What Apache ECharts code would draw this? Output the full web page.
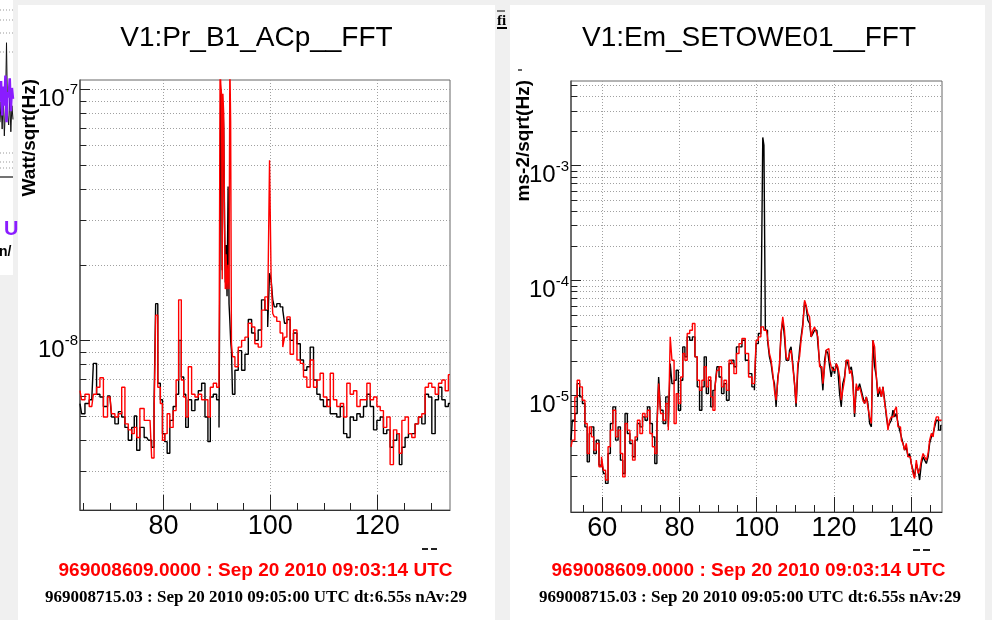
<!DOCTYPE html>
<html>
<head>
<meta charset="utf-8">
<title>V1 FFT spectra</title>
<script src="https://cdn.jsdelivr.net/npm/echarts@6.0.0/dist/echarts.min.js"></script>
<style>
  html, body { margin: 0; padding: 0; background: #f0f0f0; }
  #chart { width: 992px; height: 620px; }
</style>
</head>
<body>
<div id="chart"></div>
<script>
// ---------- V1:Pr_B1_ACp__FFT  (Watt/sqrt(Hz)) ----------
const prFreq = [
  64.4, 65.0, 65.65, 66.6, 67.2, 67.8, 68.45, 69.1, 70.0, 70.6,
  71.25, 71.9, 72.5, 73.1, 73.75, 74.4, 74.7, 75.3, 75.9, 76.9,
  77.5, 78.1, 78.4, 78.7, 79.2, 79.65, 80.0, 80.5, 80.9, 81.5,
  82.15, 82.6, 83.1, 83.6, 84.0, 84.35, 84.95, 85.6, 86.2, 86.85,
  87.45, 88.1, 88.55, 89.0, 89.65, 90.25, 90.55, 90.65, 90.8, 90.95,
  91.05, 91.2, 91.35, 91.5, 91.65, 91.8, 92.0, 92.2, 92.35, 92.5,
  92.65, 92.8, 93.05, 93.7, 94.3, 94.95, 95.55, 96.2, 96.8, 97.4,
  98.05, 98.65, 99.3, 99.7, 100.0, 100.3, 100.6, 100.9, 101.5, 102.15,
  102.5, 102.8, 103.4, 104.0, 104.65, 105.3, 105.9, 106.5, 107.15, 107.75,
  108.4, 109.0, 109.6, 110.25, 110.9, 111.5, 112.1, 112.75, 113.4, 114.0,
  114.6, 115.25, 115.85, 116.5, 117.1, 117.75, 118.35, 119.0, 119.6, 120.25,
  120.85, 121.45, 122.1, 122.7, 123.35, 123.95, 124.3, 124.9, 125.5, 126.15,
  126.75, 127.4, 128.0, 128.65, 129.25, 129.9, 130.5, 131.15, 131.75, 132.4,
  133.0, 133.6
];
// black trace: 969008715.03, Sep 20 2010 09:05:00 UTC
const prCurrent = [
  5.6e-9, 5.1e-9, 5.6e-9, 5.8e-9, 8.1e-9, 6.1e-9, 5.95e-9, 5.45e-9, 6.0e-9, 4.95e-9,
  4.65e-9, 5.2e-9, 4.95e-9, 4.5e-9, 4.0e-9, 4.5e-9, 5.0e-9, 3.65e-9, 4.5e-9, 4.1e-9,
  4.0e-9, 3.75e-9, 5.6e-9, 1.4e-8, 6.75e-9, 5.8e-9, 4.25e-9, 3.95e-9, 3.55e-9, 4.8e-9,
  5.45e-9, 6.1e-9, 1.0e-8, 7.15e-9, 6.1e-9, 4.5e-9, 5.8e-9, 5.25e-9, 5.8e-9, 6.3e-9,
  6.75e-9, 4.95e-9, 3.95e-9, 5.95e-9, 6.1e-9, 5.8e-9, 4.5e-9, 2.8e-8, 1.0e-7, 8.5e-8,
  1.9e-8, 8.8e-8, 7.0e-8, 3.0e-8, 1.7e-8, 2.4e-8, 1.5e-8, 4.1e-8, 1.4e-8, 1.2e-8,
  1.0e-8, 9.1e-9, 6.1e-9, 7.6e-9, 9.1e-9, 7.6e-9, 8.8e-9, 1.21e-8, 1.07e-8, 1.0e-8,
  1.1e-8, 1.45e-8, 1.32e-8, 1.13e-8, 1.85e-8, 1.74e-8, 1.45e-8, 1.36e-8, 1.4e-8, 1.36e-8,
  1.32e-8, 1.17e-8, 1.21e-8, 1.0e-8, 1.07e-8, 9.7e-9, 8.35e-9, 7.6e-9, 7.85e-9, 9.4e-9,
  6.95e-9, 6.1e-9, 5.8e-9, 5.45e-9, 5.8e-9, 5.1e-9, 5.1e-9, 4.95e-9, 5.45e-9, 4.25e-9,
  4.1e-9, 4.95e-9, 4.8e-9, 5.1e-9, 4.95e-9, 5.45e-9, 6.1e-9, 5.45e-9, 4.4e-9, 4.8e-9,
  4.95e-9, 4.25e-9, 4.4e-9, 3.75e-9, 4.0e-9, 4.25e-9, 3.2e-9, 3.75e-9, 4.1e-9, 4.25e-9,
  4.25e-9, 4.65e-9, 4.95e-9, 4.65e-9, 6.1e-9, 5.95e-9, 4.25e-9, 5.8e-9, 6.5e-9, 5.8e-9,
  5.45e-9, 5.6e-9
];
// red trace: 969008609.0000, Sep 20 2010 09:03:14 UTC
const prReference = [
  6.3e-9, 5.8e-9, 6.1e-9, 5.45e-9, 6.1e-9, 6.5e-9, 7.1e-9, 4.95e-9, 5.95e-9, 5.1e-9,
  4.95e-9, 5.1e-9, 6.5e-9, 4.65e-9, 4.4e-9, 4.25e-9, 4.5e-9, 4.1e-9, 5.35e-9, 4.8e-9,
  4.8e-9, 3.4e-9, 4.95e-9, 1.26e-8, 6.5e-9, 5.6e-9, 4.0e-9, 4.25e-9, 5.1e-9, 4.5e-9,
  5.25e-9, 6.95e-9, 1.45e-8, 6.95e-9, 5.95e-9, 4.95e-9, 7.85e-9, 6.1e-9, 5.95e-9, 6.1e-9,
  5.8e-9, 5.8e-9, 4.95e-9, 6.5e-9, 6.75e-9, 6.5e-9, 7.15e-9, 1.25e-7, 1.05e-7, 9.5e-8,
  1.75e-8, 9.6e-8, 8.0e-8, 3.3e-8, 1.6e-8, 2.2e-8, 1.6e-8, 2.0e-8, 1.6e-8, 1.3e-7,
  7.4e-8, 9.7e-9, 8.6e-9, 7.85e-9, 9.4e-9, 1.0e-8, 1.03e-8, 1.17e-8, 1.13e-8, 9.7e-9,
  9.4e-9, 1.32e-8, 1.49e-8, 1.32e-8, 5.22e-8, 1.74e-8, 1.28e-8, 1.24e-8, 1.19e-8, 1.07e-8,
  9.4e-9, 1.03e-8, 1.24e-8, 8.8e-9, 1.1e-8, 8.35e-9, 8.1e-9, 7.15e-9, 6.5e-9, 8.35e-9,
  6.5e-9, 6.95e-9, 7.4e-9, 5.95e-9, 5.45e-9, 7.4e-9, 5.8e-9, 5.45e-9, 5.6e-9, 4.95e-9,
  6.75e-9, 6.1e-9, 6.3e-9, 5.45e-9, 5.8e-9, 5.8e-9, 6.75e-9, 5.8e-9, 5.95e-9, 5.45e-9,
  5.25e-9, 4.5e-9, 4.95e-9, 3.2e-9, 4.4e-9, 4.25e-9, 3.55e-9, 4.8e-9, 4.95e-9, 4.25e-9,
  4.1e-9, 4.65e-9, 4.95e-9, 5.1e-9, 6.5e-9, 6.75e-9, 6.5e-9, 6.1e-9, 6.75e-9, 6.95e-9,
  6.3e-9, 7.3e-9
];
const prXMinorTicks = [65, 70, 75, 85, 90, 95, 105, 110, 115, 125, 130];
const prXMajorTicks = [80, 100, 120];
const prYGridValues = [3e-9, 4e-9, 5e-9, 6e-9, 7e-9, 8e-9, 9e-9, 1e-8, 2e-8, 3e-8, 4e-8, 5e-8, 6e-8, 7e-8, 8e-8, 9e-8, 1e-7];
const prYDecades = [1e-8, 1e-7];

// ---------- V1:Em_SETOWE01__FFT  (ms-2/sqrt(Hz)) ----------
const emFreq = [
  51.9, 52.6, 53.2, 53.8, 54.5, 55.2, 55.8, 56.4, 56.9, 57.5,
  58.1, 58.8, 59.5, 60.1, 60.5, 61.2, 61.8, 62.4, 63.1, 63.8,
  64.4, 65.0, 65.6, 66.2, 66.8, 67.5, 68.2, 68.8, 69.4, 70.1,
  70.75, 71.4, 72.0, 72.65, 73.3, 73.9, 74.4, 74.8, 75.4, 76.1,
  76.8, 77.4, 77.8, 78.3, 78.9, 79.4, 80.0, 80.6, 81.1, 81.7,
  82.3, 83.0, 83.7, 84.3, 84.9, 85.5, 86.1, 86.7, 87.2, 87.8,
  88.4, 88.9, 89.5, 89.9, 90.6, 91.2, 91.85, 92.5, 93.2, 93.8,
  94.4, 95.1, 95.75, 96.6, 97.5, 98.3, 99.2, 99.6, 100.1, 100.76,
  101.4, 101.75, 102.0, 102.5, 103.1, 103.5, 103.95, 104.4, 104.8, 105.25,
  105.7, 106.1, 106.5, 107.0, 107.4, 107.85, 108.3, 108.7, 109.1, 109.6,
  110.0, 110.4, 110.9, 111.3, 111.7, 112.2, 112.6, 113.0, 113.5, 113.9,
  114.3, 114.8, 115.2, 115.6, 116.1, 116.5, 116.9, 117.4, 117.8, 118.2,
  118.7, 119.1, 119.5, 119.95, 120.4, 120.8, 121.25, 121.7, 122.1, 122.5,
  123.0, 123.4, 123.8, 124.3, 124.7, 125.1, 125.6, 126.0, 126.4, 126.9,
  127.3, 127.7, 128.2, 128.6, 129.0, 129.5, 129.9, 130.3, 130.8, 131.2,
  131.6, 132.1, 132.5, 132.9, 133.4, 133.8, 134.2, 134.65, 135.1, 135.5,
  135.95, 136.4, 136.8, 137.25, 137.7, 138.1, 138.5, 139.0, 139.4, 139.8,
  140.3, 140.7, 141.1, 141.6, 142.0, 142.4, 142.9, 143.3, 143.7, 144.2,
  144.6, 145.0, 145.5, 145.9, 146.3, 146.8, 147.4, 147.9
];
const emCurrent = [
  4.09e-6, 6.1e-6, 6.97e-6, 1.27e-5, 9.74e-6, 8.52e-6, 5.34e-6, 2.65e-6, 4.68e-6, 5.34e-6,
  3.13e-6, 4.09e-6, 2.48e-6, 2.74e-6, 2.1e-6, 1.72e-6, 3.13e-6, 5.71e-6, 7.97e-6, 4.09e-6,
  5.34e-6, 2.74e-6, 2.1e-6, 6.97e-6, 4.68e-6, 3.83e-6, 2.93e-6, 4.09e-6, 5.71e-6, 5.34e-6,
  6.52e-6, 6.1e-6, 7.97e-6, 5.71e-6, 4.37e-6, 2.56e-6, 5.34e-6, 1.45e-5, 7.45e-6, 5.71e-6,
  9.74e-6, 5.34e-6, 1.9e-5, 1.27e-5, 1.36e-5, 1.66e-5, 7.45e-6, 1.36e-5, 2.65e-5, 2.17e-5,
  3.24e-5, 3.03e-5, 3.24e-5, 2.17e-5, 1.19e-5, 7.45e-6, 1.19e-5, 2.17e-5, 1.04e-5, 1.36e-5,
  7.97e-6, 1.11e-5, 1.19e-5, 1.78e-5, 1.45e-5, 1.04e-5, 1.27e-5, 9.1e-6, 1.9e-5, 2.03e-5,
  1.78e-5, 2.65e-5, 2.65e-5, 3.03e-5, 2.03e-5, 1.55e-5, 1.19e-5, 1.11e-5, 2.83e-5, 3.46e-5,
  3.46e-5, 1.76e-3, 1.5e-3, 3.7e-5, 3.03e-5, 2.17e-5, 1.9e-5, 1.45e-5, 1.27e-5, 7.97e-6,
  1.45e-5, 1.78e-5, 3.46e-5, 4.52e-5, 3.24e-5, 2.03e-5, 2.03e-5, 2.48e-5, 2.65e-5, 1.9e-5,
  1.27e-5, 7.97e-6, 1.66e-5, 2.48e-5, 3.24e-5, 4.23e-5, 6.52e-5, 5.9e-5, 4.52e-5, 4.23e-5,
  3.24e-5, 3.46e-5, 3.7e-5, 3.7e-5, 2.83e-5, 1.9e-5, 1.72e-5, 1.11e-5, 2.03e-5, 2.48e-5,
  2.32e-5, 1.78e-5, 1.45e-5, 1.78e-5, 1.55e-5, 1.9e-5, 1.66e-5, 1.04e-5, 7.97e-6, 1.27e-5,
  1.45e-5, 2.03e-5, 1.9e-5, 1.66e-5, 1.78e-5, 1.45e-5, 6.52e-6, 1.19e-5, 1.11e-5, 1.27e-5,
  1.11e-5, 9.74e-6, 8.52e-6, 9.74e-6, 8.52e-6, 5.71e-6, 5.34e-6, 3.03e-5, 1.78e-5, 1.45e-5,
  9.74e-6, 1.11e-5, 9.74e-6, 1.19e-5, 9.1e-6, 6.52e-6, 5.34e-6, 5.71e-6, 6.1e-6, 7.45e-6,
  6.52e-6, 6.97e-6, 5.71e-6, 5.0e-6, 4.37e-6, 3.83e-6, 3.35e-6, 3.58e-6, 2.93e-6, 3.13e-6,
  2.56e-6, 2.24e-6, 1.96e-6, 2.56e-6, 2.24e-6, 1.84e-6, 2.56e-6, 2.93e-6, 2.74e-6, 2.56e-6,
  2.93e-6, 3.83e-6, 4.37e-6, 4.68e-6, 5.34e-6, 6.1e-6, 5.0e-6, 5.5e-6
];
const emReference = [
  3.58e-6, 4.09e-6, 9.74e-6, 1.36e-5, 1.19e-5, 9.1e-6, 5.71e-6, 3.13e-6, 5.34e-6, 4.37e-6,
  3.35e-6, 3.83e-6, 2.4e-6, 2.93e-6, 2.24e-6, 1.84e-6, 3.58e-6, 5.0e-6, 7.45e-6, 4.37e-6,
  5.0e-6, 3.13e-6, 1.96e-6, 5.71e-6, 5.0e-6, 4.09e-6, 2.74e-6, 4.37e-6, 6.1e-6, 4.68e-6,
  6.97e-6, 6.52e-6, 7.45e-6, 4.68e-6, 3.58e-6, 3.13e-6, 5.0e-6, 1.27e-5, 6.97e-6, 6.1e-6,
  8.52e-6, 5.0e-6, 3.24e-5, 2.03e-5, 5.71e-6, 1.04e-5, 8.52e-6, 1.45e-5, 2.32e-5, 2.03e-5,
  3.46e-5, 3.7e-5, 4.23e-5, 2.17e-5, 1.36e-5, 1.11e-5, 1.36e-5, 1.78e-5, 1.19e-5, 1.45e-5,
  9.74e-6, 7.45e-6, 1.19e-5, 1.66e-5, 1.78e-5, 1.19e-5, 1.36e-5, 1.11e-5, 2.03e-5, 1.9e-5,
  1.55e-5, 2.32e-5, 2.83e-5, 3.13e-5, 2.32e-5, 1.45e-5, 1.27e-5, 1.27e-5, 3.03e-5, 3.24e-5,
  3.96e-5, 3.96e-5, 3.7e-5, 3.7e-5, 3.24e-5, 2.32e-5, 2.03e-5, 1.55e-5, 1.11e-5, 9.1e-6,
  1.36e-5, 1.9e-5, 3.46e-5, 4.83e-5, 3.7e-5, 2.17e-5, 2.03e-5, 2.32e-5, 2.48e-5, 1.78e-5,
  1.27e-5, 8.52e-6, 1.9e-5, 2.17e-5, 3.03e-5, 3.96e-5, 6.75e-5, 6.1e-5, 5.16e-5, 4.83e-5,
  3.24e-5, 3.7e-5, 3.96e-5, 3.58e-5, 3.24e-5, 1.78e-5, 1.78e-5, 1.27e-5, 1.78e-5, 2.48e-5,
  2.56e-5, 2.03e-5, 1.78e-5, 1.66e-5, 1.66e-5, 1.9e-5, 1.78e-5, 1.45e-5, 9.1e-6, 1.11e-5,
  1.36e-5, 2.03e-5, 2.03e-5, 1.55e-5, 1.66e-5, 1.27e-5, 6.97e-6, 1.27e-5, 1.11e-5, 1.19e-5,
  1.04e-5, 9.1e-6, 8.52e-6, 9.74e-6, 7.97e-6, 6.52e-6, 5.71e-6, 3.03e-5, 2.65e-5, 1.45e-5,
  1.04e-5, 1.19e-5, 9.74e-6, 1.19e-5, 8.52e-6, 6.97e-6, 5.0e-6, 6.1e-6, 6.52e-6, 6.52e-6,
  7.45e-6, 7.97e-6, 5.34e-6, 5.34e-6, 4.09e-6, 3.83e-6, 3.35e-6, 3.83e-6, 2.93e-6, 2.93e-6,
  2.56e-6, 2.1e-6, 1.9e-6, 2.74e-6, 2.1e-6, 2.24e-6, 2.74e-6, 3.13e-6, 2.93e-6, 2.74e-6,
  3.13e-6, 4.09e-6, 4.68e-6, 4.37e-6, 5.71e-6, 6.52e-6, 6.1e-6, 6.1e-6
];
const emXMinorTicks = [55, 65, 70, 75, 85, 90, 95, 105, 110, 115, 125, 130, 135, 145];
const emXMajorTicks = [60, 80, 100, 120, 140];
const emYGridValues = [
  2e-6, 3e-6, 4e-6, 5e-6, 6e-6, 7e-6, 8e-6, 9e-6,
  1e-5, 2e-5, 3e-5, 4e-5, 5e-5, 6e-5, 7e-5, 8e-5, 9e-5,
  1e-4, 2e-4, 3e-4, 4e-4, 5e-4, 6e-4, 7e-4, 8e-4, 9e-4,
  1e-3, 2e-3, 3e-3, 4e-3, 5e-3
];
const emYDecades = [1e-5, 1e-4, 1e-3];

// neighbouring window strip on the far left
const sideX = [0, 1, 2, 3, 4, 5, 6, 7, 8, 9, 10, 11, 12];
const sidePurple = [55, 70, 45, 66, 52, 74, 40, 62, 58, 72, 48, 65, 57];
const sideBlack = [40, 55, 35, 60, 30, 50, 98, 45, 38, 58, 33, 52, 42];

const refStamp = '969008609.0000 : Sep 20 2010 09:03:14 UTC';
const curStamp = '969008715.03 : Sep 20 2010 09:05:00 UTC dt:6.55s nAv:29';

const SANS = '"Liberation Sans", Arial, Helvetica, sans-serif';
const SERIF = '"Liberation Serif", "Times New Roman", serif';
const GRID_DOT = { color: '#a0a0a0', width: 1, type: [1, 2] };

function powerLabel(v) {
  const e = v > 0 ? Math.round(Math.log10(v)) : v;
  return '{b|10}{s|' + e + '}';
}
const powerRich = {
  b: { fontSize: 24, fontFamily: SANS, color: '#000', lineHeight: 33 },
  s: { fontSize: 15, fontFamily: SANS, color: '#000', lineHeight: 12, verticalAlign: 'top' }
};

const panels = [
  {
    rect: { left: 80, top: 80, width: 370, height: 430 },
    xMin: 64.4, xMax: 133.6, yMin: 2.11e-9, yMax: 1.089e-7,
    xMinor: prXMinorTicks, xMajor: prXMajorTicks, yGrid: prYGridValues, yDec: prYDecades,
    freq: prFreq, cur: prCurrent, ref: prReference
  },
  {
    rect: { left: 571, top: 81, width: 371, height: 431 },
    xMin: 51.9, xMax: 148.0, yMin: 9.7e-7, yMax: 5.45e-3,
    xMinor: emXMinorTicks, xMajor: emXMajorTicks, yGrid: emYGridValues, yDec: emYDecades,
    freq: emFreq, cur: emCurrent, ref: emReference
  }
];

const grid = [], xAxis = [], yAxis = [], series = [];
panels.forEach(function (p) {
  const g = grid.length;
  // frame + minor ticks + horizontal log grid
  grid.push(Object.assign({ show: true, borderColor: '#666', borderWidth: 1, backgroundColor: 'transparent' }, p.rect));
  // major ticks, labels, vertical grid
  grid.push(Object.assign({ show: false }, p.rect));

  xAxis.push({
    type: 'value', gridIndex: g, min: p.xMin, max: p.xMax, position: 'bottom',
    axisLine: { show: true, onZero: false, lineStyle: { color: '#333', width: 1 } },
    axisTick: { show: true, inside: true, length: 7, customValues: p.xMinor, lineStyle: { color: '#222' } },
    axisLabel: { show: false }, splitLine: { show: false }
  });
  xAxis.push({
    type: 'value', gridIndex: g + 1, min: p.xMin, max: p.xMax, position: 'bottom',
    axisLine: { show: false, onZero: false },
    axisTick: { show: true, inside: true, length: 15, customValues: p.xMajor, lineStyle: { color: '#222' } },
    axisLabel: { show: true, customValues: p.xMajor, margin: 3, fontSize: 27, fontFamily: SANS, color: '#000' },
    splitLine: { show: true, lineStyle: GRID_DOT }
  });
  yAxis.push({
    type: 'log', logBase: 10, gridIndex: g, min: p.yMin, max: p.yMax, position: 'left',
    axisLine: { show: true, onZero: false, lineStyle: { color: '#555', width: 1.5 } },
    axisTick: { show: true, inside: true, length: 6, customValues: p.yGrid, lineStyle: { color: '#222' } },
    axisLabel: { show: false },
    splitLine: { show: true, lineStyle: GRID_DOT }
  });
  yAxis.push({
    type: 'log', logBase: 10, gridIndex: g + 1, min: p.yMin, max: p.yMax, position: 'left',
    axisLine: { show: false, onZero: false },
    axisTick: { show: true, inside: true, length: 10, customValues: p.yDec, lineStyle: { color: '#222' } },
    axisLabel: { show: true, customValues: p.yDec, margin: 2, padding: [20, 0, 0, 0], formatter: powerLabel, rich: powerRich },
    splitLine: { show: false }
  });

  series.push({
    name: 'Sep 20 2010 09:05:00 UTC', type: 'line', xAxisIndex: g, yAxisIndex: g,
    data: p.freq.map(function (f, k) { return [f, p.cur[k]]; }),
    step: 'middle', showSymbol: false, symbol: 'none', silent: true, z: 3,
    lineStyle: { color: '#000000', width: 1.4 }, itemStyle: { color: '#000000' }
  });
  series.push({
    name: 'Sep 20 2010 09:03:14 UTC', type: 'line', xAxisIndex: g, yAxisIndex: g,
    data: p.freq.map(function (f, k) { return [f, p.ref[k]]; }),
    step: 'middle', showSymbol: false, symbol: 'none', silent: true, z: 4,
    lineStyle: { color: '#ff0000', width: 1.4 }, itemStyle: { color: '#ff0000' }
  });
});

// strip of the neighbouring window
const sg = grid.length;
grid.push({ left: 0, top: 40, width: 13, height: 137, show: false });
xAxis.push({ type: 'value', gridIndex: sg, min: 0, max: 12, show: false });
yAxis.push({ type: 'value', gridIndex: sg, min: 0, max: 100, show: false });
series.push({
  type: 'line', xAxisIndex: sg, yAxisIndex: sg, silent: true, showSymbol: false, symbol: 'none', z: 3,
  data: sideX.map(function (x, k) { return [x, sideBlack[k]]; }),
  lineStyle: { color: '#111', width: 1 }
});
series.push({
  type: 'line', xAxisIndex: sg, yAxisIndex: sg, silent: true, showSymbol: false, symbol: 'none', z: 4,
  data: sideX.map(function (x, k) { return [x, sidePurple[k]]; }),
  lineStyle: { color: '#8a1cff', width: 2.5 }
});

function txt(x, y, text, font, fill, align, extra) {
  return Object.assign({
    type: 'text', x: x, y: y, silent: true,
    style: { text: text, font: font, fill: fill, align: align || 'center', verticalAlign: 'middle' }
  }, extra || {});
}
function hline(x1, x2, y, color, width, dash) {
  return { type: 'line', silent: true, z: -5, shape: { x1: x1, y1: y, x2: x2, y2: y },
    style: { stroke: color, lineWidth: width || 1, lineDash: dash || null } };
}
function box(x, y, w, h, fill, z) {
  return { type: 'rect', silent: true, z: z === undefined ? -10 : z, shape: { x: x, y: y, width: w, height: h }, style: { fill: fill } };
}

const graphic = [
  box(0, 0, 13, 275, '#ffffff'),
  box(18, 5, 477, 615, '#ffffff'),
  box(510, 5, 475, 615, '#ffffff'),
  hline(0, 13, 10, '#999', 1, [1, 2]),
  hline(0, 13, 20, '#999', 1, [1, 2]),
  hline(0, 13, 33, '#999', 1, [1, 2]),
  hline(0, 13, 52, '#999', 1, [1, 2]),
  hline(0, 13, 153, '#999', 1, [1, 2]),
  hline(0, 13, 162, '#999', 1, [1, 2]),
  hline(0, 13, 168, '#999', 1, [1, 2]),
  hline(0, 13, 177, '#444', 1.5),
  txt(4, 229, 'U', 'bold 20px ' + SANS, '#8a1cff', 'left'),
  txt(-1, 252, 'n/', 'bold 14px ' + SANS, '#000', 'left'),
  txt(497, 21, 'fi', 'bold 15px ' + SERIF, '#000', 'left'),
  hline(497, 505, 11, '#000', 1),
  hline(497, 507, 28, '#000', 2),
  hline(518, 522, 70, '#333', 1.5),
  // titles
  txt(256.5, 38, 'V1:Pr_B1_ACp__FFT', '28px ' + SANS, '#000'),
  txt(749, 38, 'V1:Em_SETOWE01__FFT', '28px ' + SANS, '#000'),
  // y axis titles
  {
    type: 'text', x: 39, y: 79, rotation: Math.PI / 2, silent: true,
    style: { text: 'Watt/sqrt(Hz)', font: 'bold 19px ' + SANS, fill: '#000', align: 'right', verticalAlign: 'bottom' }
  },
  {
    type: 'text', x: 533, y: 80, rotation: Math.PI / 2, silent: true,
    style: { text: 'ms-2/sqrt(Hz)', font: 'bold 19px ' + SANS, fill: '#000', align: 'right', verticalAlign: 'bottom' }
  },
  // axis title remnants under the x axes
  hline(422, 428, 549, '#222', 2),
  hline(431, 437, 549, '#222', 2),
  hline(913, 920, 550, '#222', 2),
  hline(923, 930, 550, '#222', 2),
  // time stamps
  txt(255.5, 571, refStamp, 'bold 19px ' + SANS, '#ff0000'),
  txt(256, 598, curStamp, 'bold 17px ' + SERIF, '#000'),
  txt(748.5, 571, refStamp, 'bold 19px ' + SANS, '#ff0000'),
  txt(750, 598, curStamp, 'bold 17px ' + SERIF, '#000')
];

const chart = echarts.init(document.getElementById('chart'), null, { renderer: 'canvas' });
chart.setOption({
  backgroundColor: '#f0f0f0',
  animation: false,
  grid: grid,
  xAxis: xAxis,
  yAxis: yAxis,
  series: series,
  graphic: { elements: graphic }
});
</script>
</body>
</html>
